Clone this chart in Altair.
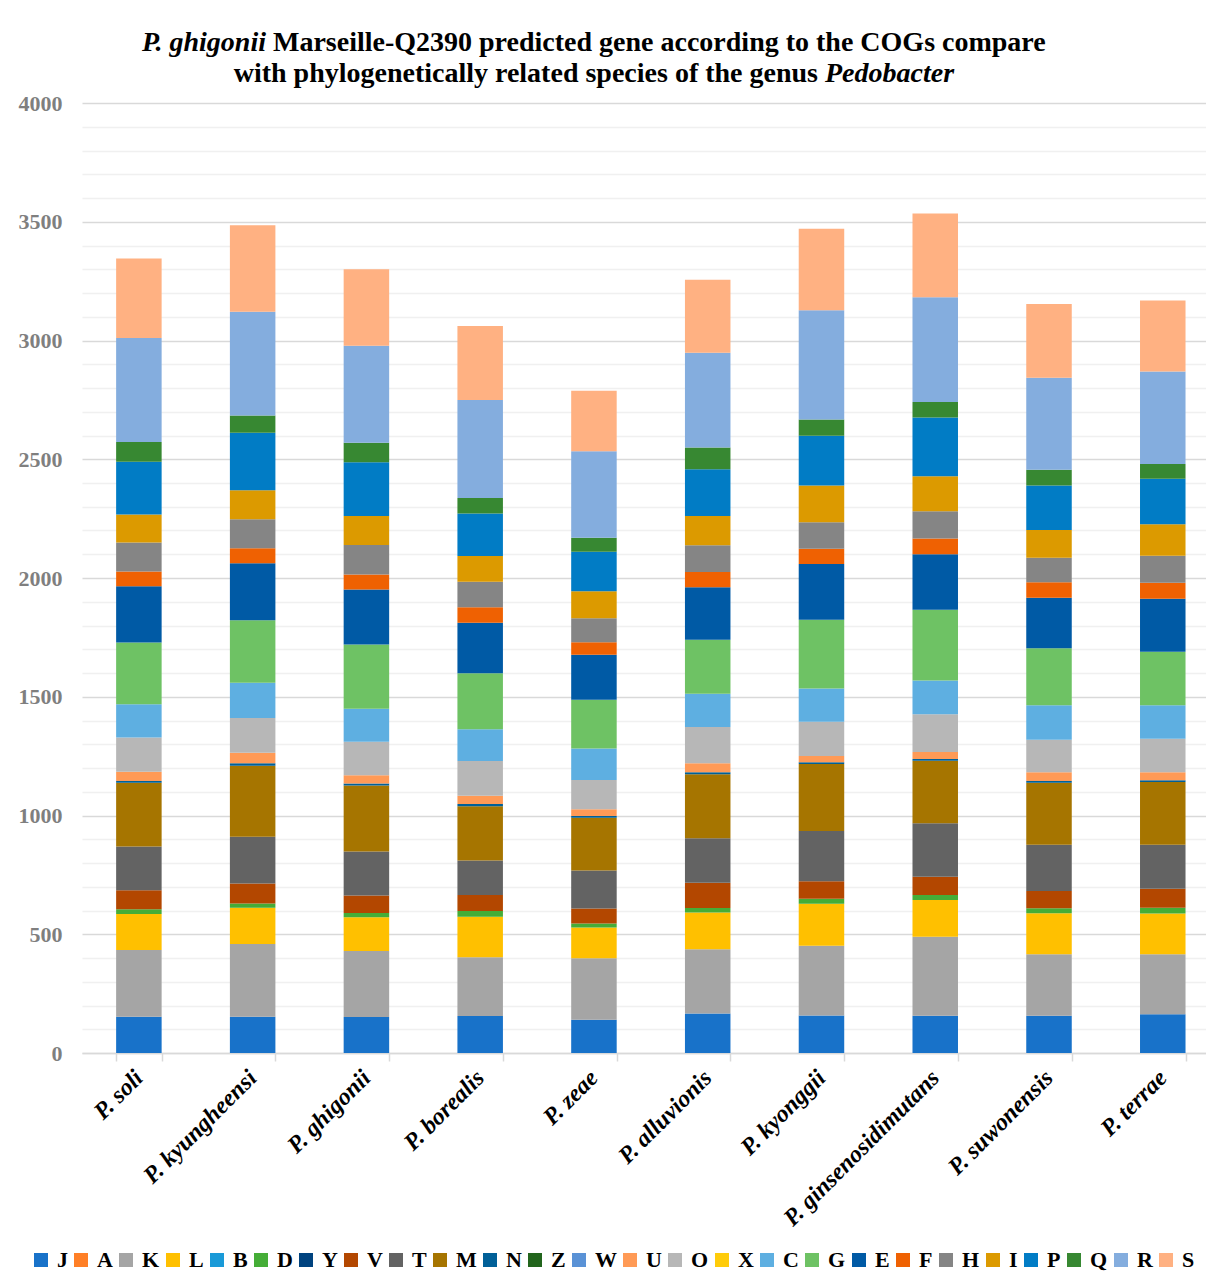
import altair as alt
import pandas as pd

species = ["P. soli", "P. kyungheensi", "P. ghigonii", "P. borealis", "P. zeae",
           "P. alluvionis", "P. kyonggii", "P. ginsenosidimutans", "P. suwonensis", "P. terrae"]

cogs = ["J", "A", "K", "L", "B", "D", "Y", "V", "T", "M", "N", "Z", "W",
        "U", "O", "X", "C", "G", "E", "F", "H", "I", "P", "Q", "R", "S"]

colors = ["#1872C9", "#FF7F26", "#A5A5A5", "#FFC000", "#199AD8", "#45AD37", "#00437F",
          "#B34700", "#636363", "#A67500", "#006098", "#22651D", "#5A92D6",
          "#FF9A56", "#B7B7B7", "#FFCC0A", "#5EAFE1", "#6EC264", "#005AA5", "#EF6102",
          "#858585", "#DC9A00", "#017CC5", "#378832", "#84ADDE", "#FFB182"]

# values per COG category, in species order
J = [153, 153, 152, 156, 140, 166, 158, 157, 157, 163]
A = [0, 0, 0, 0, 0, 0, 0, 0, 0, 0]
K = [281, 306, 278, 247, 259, 271, 294, 333, 259, 253]
L = [151, 153, 142, 171, 129, 155, 176, 154, 172, 171]
B = [0, 0, 0, 0, 0, 0, 0, 0, 0, 0]
D = [20, 18, 17, 24, 17, 19, 22, 21, 21, 25]
Y = [0, 0, 0, 0, 0, 0, 0, 0, 0, 0]
V = [80, 84, 74, 67, 63, 106, 73, 77, 73, 80]
T = [184, 197, 185, 146, 160, 187, 212, 225, 195, 185]
M = [269, 299, 278, 228, 223, 270, 282, 264, 261, 264]
N = [7, 10, 9, 9, 7, 8, 7, 7, 7, 7]
Z = [0, 0, 0, 0, 0, 0, 0, 0, 0, 0]
W = [0, 0, 0, 0, 0, 0, 0, 0, 0, 0]
U = [39, 44, 35, 35, 28, 38, 27, 29, 37, 34]
O = [144, 147, 141, 146, 124, 153, 144, 159, 137, 141]
X = [0, 0, 0, 0, 0, 0, 0, 0, 0, 0]
C = [140, 148, 139, 134, 132, 140, 140, 142, 145, 141]
G = [260, 263, 270, 236, 205, 227, 289, 298, 240, 226]
E = [237, 240, 232, 213, 190, 221, 235, 234, 213, 223]
F = [62, 63, 63, 65, 52, 64, 64, 66, 65, 67]
H = [122, 122, 124, 107, 102, 113, 112, 115, 103, 114]
I = [118, 122, 122, 109, 113, 123, 154, 147, 117, 132]
P = [222, 243, 226, 179, 167, 197, 210, 248, 188, 192]
Q = [84, 72, 83, 65, 58, 91, 68, 65, 66, 62]
R = [438, 437, 408, 412, 365, 399, 460, 441, 387, 389]
S = [334, 364, 322, 312, 254, 308, 344, 353, 311, 299]

series_lists = [J, A, K, L, B, D, Y, V, T, M, N, Z, W, U, O, X, C, G, E, F, H, I, P, Q, R, S]

title1_italic = "P. ghigonii"
title1_rest = "Marseille-Q2390 predicted gene according to the COGs compare"
title2_rest = "with phylogenetically related species of the genus"
title2_italic = "Pedobacter"

y_ticks = list(range(0, 4001, 100))

rows = []
for idx, (c, vals) in enumerate(zip(cogs, series_lists)):
    for s, v in zip(species, vals):
        rows.append({"species": s, "cog": c, "count": v, "ord": idx})
df = pd.DataFrame(rows)

FONT = "Liberation Serif"

bars = alt.Chart(df).mark_bar().encode(
    x=alt.X("species:N", sort=species,
            scale=alt.Scale(paddingInner=0.6, paddingOuter=0.24, align=0.625),
            axis=alt.Axis(title=None, labelAngle=315, labelAlign="right", labelBaseline="middle",
                          labelFont=FONT, labelFontSize=24, labelFontWeight="bold",
                          labelFontStyle="italic", labelColor="black", labelPadding=13,
                          labelLimit=400, domainColor="#d9d9d9", domainWidth=1.5,
                          tickBand="extent", ticks=True, tickColor="#d9d9d9", tickSize=8,
                          tickWidth=1.5, grid=False)),
    y=alt.Y("count:Q", stack="zero",
            scale=alt.Scale(domain=[0, 4000], nice=False),
            axis=alt.Axis(title=None, values=y_ticks, format="d",
                          labelExpr="datum.value % 500 === 0 ? datum.label : ''",
                          grid=True,
                          gridColor={"condition": {"test": "datum.value % 500 === 0", "value": "#d9d9d9"},
                                     "value": "#f0f0f0"},
                          gridWidth=1.5, domain=False, ticks=False,
                          labelFont=FONT, labelFontSize=22, labelFontWeight="bold",
                          labelColor="#7f7f7f", labelPadding=20)),
    color=alt.Color("cog:N", scale=alt.Scale(domain=cogs, range=colors),
                    legend=alt.Legend(orient="none", legendX=-52, legendY=1146,
                                      direction="horizontal", columns=26,
                                      symbolType="square", symbolSize=196, symbolStrokeWidth=0,
                                      labelFont=FONT, labelFontSize=22, labelFontWeight="bold",
                                      labelColor="black", labelOffset=5, columnPadding=2,
                                      title=None, padding=0)),
    order=alt.Order("ord:Q", sort="ascending"),
)

def title_part(txt, x, y, align, italic):
    return alt.Chart(pd.DataFrame({"t": [txt]})).mark_text(
        font=FONT, fontSize=28, fontWeight="bold",
        fontStyle="italic" if italic else "normal",
        align=align, baseline="alphabetic", color="black"
    ).encode(text="t:N", x=alt.value(x), y=alt.value(y))

t1a = title_part(title1_italic, 184, -52, "right", True)
t1b = title_part(title1_rest, 191, -52, "left", False)
t2a = title_part(title2_rest, 736, -21, "right", False)
t2b = title_part(title2_italic, 743, -21, "left", True)

chart = alt.layer(bars, t1a, t1b, t2a, t2b).properties(
    width=1124, height=950,
    autosize=alt.AutoSizeParams(type="none"),
    padding={"left": 74, "top": 95, "right": 0, "bottom": 227},
).configure_view(stroke=None)

chart.save("out.html", embed_options={"renderer": "svg", "actions": False})
